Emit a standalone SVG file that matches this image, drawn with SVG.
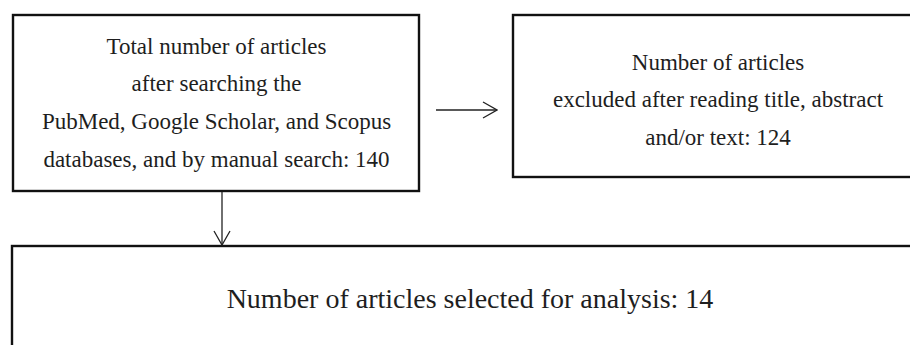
<svg xmlns="http://www.w3.org/2000/svg" width="910" height="345" viewBox="0 0 910 345">
  <style>
    .box { fill: #ffffff; stroke: #111111; stroke-width: 2.4; }
    .lbl { font-family: "Liberation Serif", "Times New Roman", serif; font-size: 23px; fill: #1e1e1e; text-anchor: middle; }
    .big { font-size: 28px; }
    .wire { fill: none; stroke: #222222; stroke-width: 1.3; }
  </style>
  <defs>
    <marker id="open-arrow" viewBox="0 0 16 20" refX="15" refY="10" markerWidth="16" markerHeight="20" markerUnits="userSpaceOnUse" orient="auto">
      <path d="M1,2 L15,10 L1,18" fill="none" stroke="#222222" stroke-width="1.3"/>
    </marker>
  </defs>
  <rect width="910" height="345" fill="#ffffff"/>

  <g id="search-total">
    <rect class="box" x="13" y="15" width="406" height="176"/>
    <text class="lbl" x="216.5" y="53.5">Total number of articles</text>
    <text class="lbl" x="216.5" y="91">after searching the</text>
    <text class="lbl" x="216.5" y="128.5">PubMed, Google Scholar, and Scopus</text>
    <text class="lbl" x="216.5" y="166.5">databases, and by manual search: 140</text>
  </g>

  <g id="excluded">
    <rect class="box" x="513" y="15" width="420" height="162"/>
    <text class="lbl" x="718" y="69.5">Number of articles</text>
    <text class="lbl" x="718" y="107">excluded after reading title, abstract</text>
    <text class="lbl" x="718" y="145">and/or text: 124</text>
  </g>

  <g id="selected">
    <rect class="box" x="12" y="246" width="930" height="130"/>
    <text class="lbl big" x="470" y="308">Number of articles selected for analysis: 14</text>
  </g>

  <g id="connectors">
    <line class="wire" x1="436" y1="110" x2="497" y2="110" marker-end="url(#open-arrow)"/>
    <line class="wire" x1="222" y1="192" x2="222" y2="245" marker-end="url(#open-arrow)"/>
  </g>
</svg>
